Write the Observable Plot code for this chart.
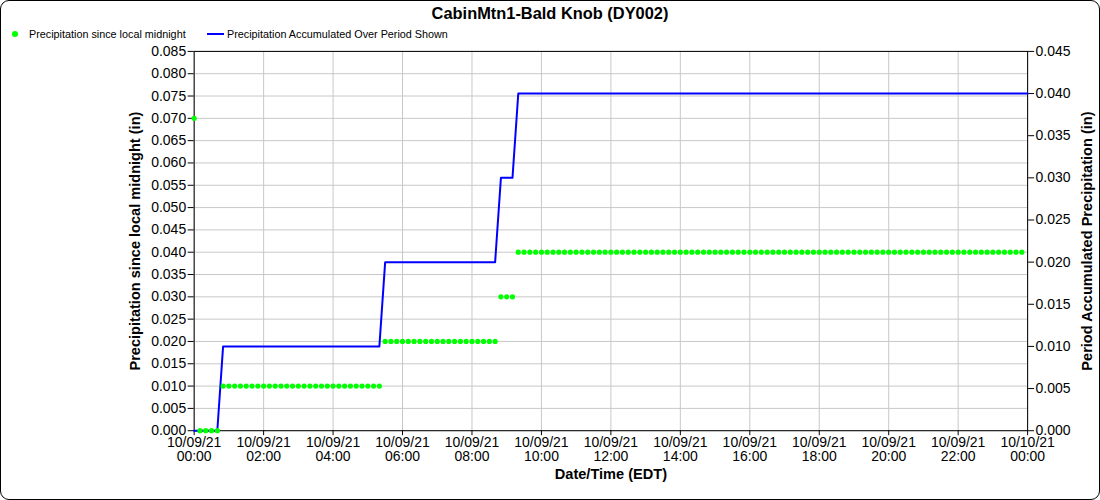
<!DOCTYPE html>
<html>
<head>
<meta charset="utf-8">
<script src="https://cdn.jsdelivr.net/npm/d3@7"></script>
<script src="https://cdn.jsdelivr.net/npm/@observablehq/plot@0.6"></script>
<style>
  html, body { margin: 0; padding: 0; background: #fff; }
  #wrap { position: relative; width: 1100px; height: 500px; box-sizing: border-box; border: 1px solid #000; border-radius: 9px; overflow: hidden; font-family: "Liberation Sans", Arial, sans-serif; }
  #title { position: absolute; left: 0; width: 100%; top: 3px; text-align: center; font-weight: bold; font-size: 16.4px; }
  .leg { position: absolute; top: 27px; font-size: 10.8px; white-space: nowrap; }
  #chart { position: absolute; left: 0; top: 0; }
</style>
</head>
<body>
<div id="wrap">
  <div id="chart"></div>
  <div id="title">CabinMtn1-Bald Knob (DY002)</div>
  <div class="leg" style="left:11px;"><span style="display:inline-block;width:6px;height:6px;border-radius:50%;background:#00ff00;vertical-align:middle;margin-right:11px;position:relative;top:-1px;"></span>Precipitation since local midnight</div>
  <div class="leg" style="left:206px;"><span style="display:inline-block;width:17px;height:2px;background:#0000ff;vertical-align:middle;margin-right:3px;position:relative;top:-1px;"></span>Precipitation Accumulated Over Period Shown</div>
</div>
<script>
// Readings every 10 minutes, 10/09/21 00:00 EDT onward (one row per hour)
const sinceMidnight = [
  0.07, 0.00, 0.00, 0.00, 0.00, 0.01, // 00
  0.01, 0.01, 0.01, 0.01, 0.01, 0.01, // 01
  0.01, 0.01, 0.01, 0.01, 0.01, 0.01, // 02
  0.01, 0.01, 0.01, 0.01, 0.01, 0.01, // 03
  0.01, 0.01, 0.01, 0.01, 0.01, 0.01, // 04
  0.01, 0.01, 0.01, 0.02, 0.02, 0.02, // 05
  0.02, 0.02, 0.02, 0.02, 0.02, 0.02, // 06
  0.02, 0.02, 0.02, 0.02, 0.02, 0.02, // 07
  0.02, 0.02, 0.02, 0.02, 0.02, 0.03, // 08
  0.03, 0.03, 0.04, 0.04, 0.04, 0.04, // 09
  0.04, 0.04, 0.04, 0.04, 0.04, 0.04, // 10
  0.04, 0.04, 0.04, 0.04, 0.04, 0.04, // 11
  0.04, 0.04, 0.04, 0.04, 0.04, 0.04, // 12
  0.04, 0.04, 0.04, 0.04, 0.04, 0.04, // 13
  0.04, 0.04, 0.04, 0.04, 0.04, 0.04, // 14
  0.04, 0.04, 0.04, 0.04, 0.04, 0.04, // 15
  0.04, 0.04, 0.04, 0.04, 0.04, 0.04, // 16
  0.04, 0.04, 0.04, 0.04, 0.04, 0.04, // 17
  0.04, 0.04, 0.04, 0.04, 0.04, 0.04, // 18
  0.04, 0.04, 0.04, 0.04, 0.04, 0.04, // 19
  0.04, 0.04, 0.04, 0.04, 0.04, 0.04, // 20
  0.04, 0.04, 0.04, 0.04, 0.04, 0.04, // 21
  0.04, 0.04, 0.04, 0.04, 0.04, 0.04, // 22
  0.04, 0.04, 0.04, 0.04, 0.04, 0.04  // 23
];
const periodAccum = [
  0.00, 0.00, 0.00, 0.00, 0.00, 0.01, // 00
  0.01, 0.01, 0.01, 0.01, 0.01, 0.01, // 01
  0.01, 0.01, 0.01, 0.01, 0.01, 0.01, // 02
  0.01, 0.01, 0.01, 0.01, 0.01, 0.01, // 03
  0.01, 0.01, 0.01, 0.01, 0.01, 0.01, // 04
  0.01, 0.01, 0.01, 0.02, 0.02, 0.02, // 05
  0.02, 0.02, 0.02, 0.02, 0.02, 0.02, // 06
  0.02, 0.02, 0.02, 0.02, 0.02, 0.02, // 07
  0.02, 0.02, 0.02, 0.02, 0.02, 0.03, // 08
  0.03, 0.03, 0.04, 0.04, 0.04, 0.04, // 09
  0.04, 0.04, 0.04, 0.04, 0.04, 0.04, // 10
  0.04, 0.04, 0.04, 0.04, 0.04, 0.04, // 11
  0.04, 0.04, 0.04, 0.04, 0.04, 0.04, // 12
  0.04, 0.04, 0.04, 0.04, 0.04, 0.04, // 13
  0.04, 0.04, 0.04, 0.04, 0.04, 0.04, // 14
  0.04, 0.04, 0.04, 0.04, 0.04, 0.04, // 15
  0.04, 0.04, 0.04, 0.04, 0.04, 0.04, // 16
  0.04, 0.04, 0.04, 0.04, 0.04, 0.04, // 17
  0.04, 0.04, 0.04, 0.04, 0.04, 0.04, // 18
  0.04, 0.04, 0.04, 0.04, 0.04, 0.04, // 19
  0.04, 0.04, 0.04, 0.04, 0.04, 0.04, // 20
  0.04, 0.04, 0.04, 0.04, 0.04, 0.04, // 21
  0.04, 0.04, 0.04, 0.04, 0.04, 0.04, // 22
  0.04, 0.04, 0.04, 0.04, 0.04, 0.04, // 23
  0.04                                // 24:00
];
const leftTickValues = [0, 0.005, 0.01, 0.015, 0.02, 0.025, 0.03, 0.035, 0.04, 0.045, 0.05, 0.055, 0.06, 0.065, 0.07, 0.075, 0.08, 0.085];
const rightTickValues = [0, 0.005, 0.01, 0.015, 0.02, 0.025, 0.03, 0.035, 0.04, 0.045];
const xTickHours = [0, 2, 4, 6, 8, 10, 12, 14, 16, 18, 20, 22, 24];

const leftMax = 0.085, rightMax = 0.045;
const k = leftMax / rightMax;
const t0 = Date.UTC(2021, 9, 9, 0, 0);
const tAt = (i) => new Date(t0 + i * 10 * 60000);
const greenData = sinceMidnight.map((v, i) => ({t: tAt(i), v}));
const blueData = periodAccum.map((v, i) => ({t: tAt(i), v: v * k}));
const xTicks = xTickHours.map(h => new Date(t0 + h * 3600000));
const fmtD = d3.utcFormat("%m/%d/%y"), fmtT = d3.utcFormat("%H:%M");

const chart = Plot.plot({
  width: 1100, height: 500,
  marginLeft: 193, marginRight: 72, marginTop: 50, marginBottom: 70,
  x: {type: "utc", domain: [new Date(t0), new Date(t0 + 24 * 3600000)]},
  y: {domain: [0, leftMax]},
  style: {fontFamily: "'Liberation Sans', Arial, sans-serif", fontSize: "14px", color: "#000", background: "transparent", overflow: "visible"},
  marks: [
    Plot.gridX(xTicks, {stroke: "#c8c8c8", strokeOpacity: 1}),
    Plot.gridY(leftTickValues, {stroke: "#c8c8c8", strokeOpacity: 1}),
    Plot.frame({stroke: "#000"}),
    Plot.axisX(xTicks, {tickFormat: d => fmtD(d) + "\n" + fmtT(d), tickSize: 5, tickPadding: 1, label: null, fontSize: 14}),
    Plot.axisY(leftTickValues, {tickFormat: d => d.toFixed(3), tickSize: 6, tickPadding: 2, label: null, fontSize: 14}),
    Plot.axisY(rightTickValues.map(v => v * k), {anchor: "right", tickFormat: d => (d / k).toFixed(3), tickSize: 6, tickPadding: 2, label: null, fontSize: 14}),
    Plot.line(blueData, {x: "t", y: "v", stroke: "#0000ff", strokeWidth: 2}),
    Plot.dot(greenData, {x: "t", y: "v", r: 2.6, fill: "#00ff00", stroke: "none"}),
    Plot.text(["Precipitation since local midnight (in)"], {frameAnchor: "left", dx: -59, rotate: -90, textAnchor: "middle", fontWeight: "bold", fontSize: 14.6}),
    Plot.text(["Period Accumulated Precipitation (in)"], {frameAnchor: "right", dx: 60, rotate: -90, textAnchor: "middle", fontWeight: "bold", fontSize: 14.6}),
    Plot.text(["Date/Time (EDT)"], {frameAnchor: "bottom", dy: 48, textAnchor: "middle", fontWeight: "bold", fontSize: 14.6})
  ]
});
document.getElementById("chart").appendChild(chart);
</script>
</body>
</html>
